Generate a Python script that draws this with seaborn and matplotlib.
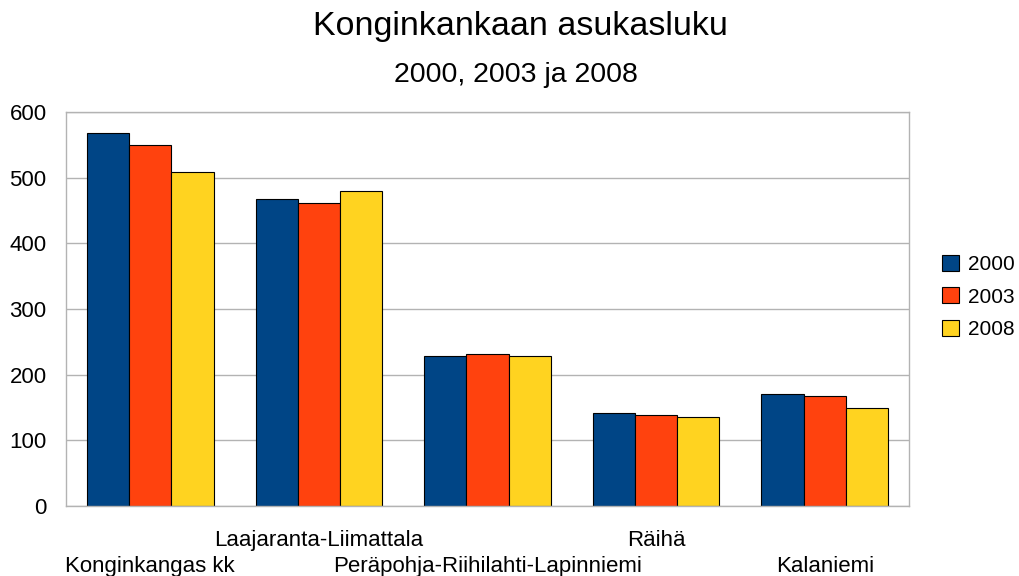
import pandas as pd
import matplotlib
matplotlib.use("Agg")
import matplotlib.pyplot as plt
import seaborn as sns

# Data
alueet = ["Konginkangas kk", "Laajaranta-Liimattala", "Peräpohja-Riihilahti-Lapinniemi",
          "Räihä", "Kalaniemi"]
vuodet = ["2000", "2003", "2008"]
asukkaat_2000 = [568, 468, 229, 141, 170]
asukkaat_2003 = [550, 461, 232, 138, 167]
asukkaat_2008 = [509, 480, 229, 135, 149]
y_ticks = [0, 100, 200, 300, 400, 500, 600]

colors = ["#004586", "#ff420e", "#ffd320"]
grey = "#b3b3b3"

# long format table for seaborn
df = pd.DataFrame({
    "alue": alueet * 3,
    "vuosi": [vuodet[0]] * 5 + [vuodet[1]] * 5 + [vuodet[2]] * 5,
    "asukkaat": asukkaat_2000 + asukkaat_2003 + asukkaat_2008,
})

sns.set_style("white")
plt.rcParams["font.family"] = ["Liberation Sans", "DejaVu Sans"]
plt.rcParams["text.color"] = "black"
plt.rcParams["xtick.labelcolor"] = "black"
plt.rcParams["ytick.labelcolor"] = "black"

fig = plt.figure(figsize=(10.19, 5.76), dpi=100)
ax = fig.add_axes([66 / 1019, 1 - 506 / 576, (909 - 66) / 1019, (506 - 112) / 576])

sns.barplot(data=df, x="alue", y="asukkaat", hue="vuosi", hue_order=vuodet,
            order=alueet, palette=colors, saturation=1, width=0.75,
            edgecolor="black", linewidth=0.8, ax=ax, legend=True)

ax.set_xlim(-0.5, 4.5)
ax.set_ylim(0, 600)
ax.set_yticks(y_ticks)
ax.yaxis.grid(True, color=grey, linewidth=1)
ax.set_axisbelow(True)
for s in ax.spines.values():
    s.set_color(grey)
    s.set_linewidth(1)

ax.set_xlabel("")
ax.set_ylabel("")
ax.tick_params(axis="y", length=9, color=grey, width=1, labelsize=16,
               pad=5, labelcolor="black")
ax.set_xticks(range(len(alueet)))
ax.set_xticklabels(alueet)
ax.set_xticks([i - 0.5 for i in range(len(alueet) + 1)], minor=True)
ax.tick_params(axis="x", which="major", length=0, labelsize=16, labelcolor="black")
ax.tick_params(axis="x", which="minor", length=6.5, color=grey, width=1)
# staggered category labels, first one on the lower row
for i, t in enumerate(ax.xaxis.get_major_ticks()):
    t.set_pad(36 if i % 2 == 0 else 17.5)

leg = ax.legend(loc="center left", bbox_to_anchor=(942 / 1019, 1 - 297 / 576),
                bbox_transform=fig.transFigure, frameon=False, fontsize=15,
                handlelength=0.8, handleheight=0.8, handletextpad=0.45,
                labelspacing=0.65, borderpad=0, borderaxespad=0)
for txt in leg.get_texts():
    txt.set_color("black")

fig.text(520 / 1019, 1 - 35 / 576, "Konginkankaan asukasluku", ha="center",
         va="baseline", fontsize=24.5, color="black")
fig.text(516 / 1019, 1 - 82 / 576, "2000, 2003 ja 2008", ha="center",
         va="baseline", fontsize=20.5, color="black")

fig.savefig("out.png", dpi=100)
